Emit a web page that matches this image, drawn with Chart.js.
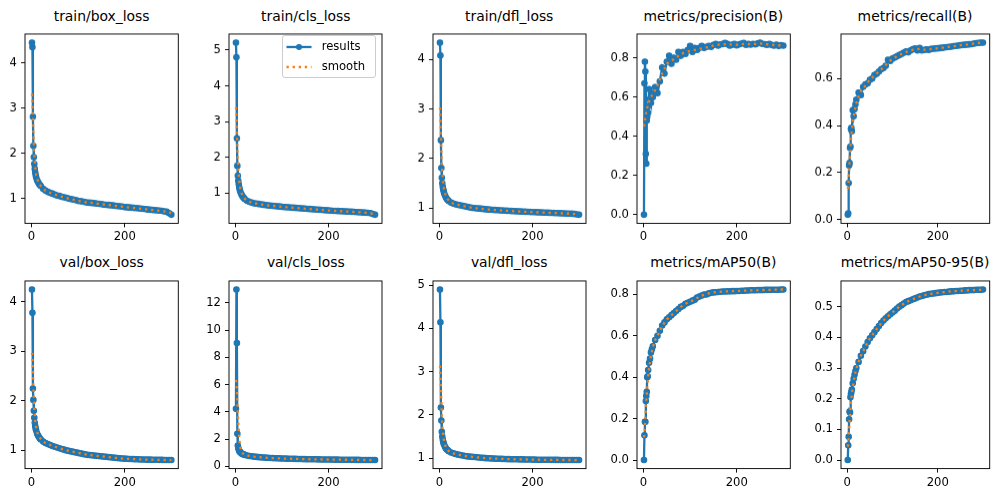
<!DOCTYPE html>
<html lang="en">
<head>
  <meta charset="UTF-8">
  <title>results</title>
  <script src="https://cdn.jsdelivr.net/npm/chart.js@4"></script>
  <style>
    html, body {
      margin: 0;
      padding: 0;
      background: #fff;
    }
    body {
      width: 999px;
      height: 495px;
      position: relative;
      overflow: hidden;
      font-family: 'DejaVu Sans', sans-serif;
    }
    .panel { position: absolute; }
    .title {
      position: absolute;
      text-align: center;
      font-size: 13.9px;
      line-height: 1;
      color: #000;
      white-space: nowrap;
    }
    .legend {
      position: absolute;
      box-sizing: border-box;
      border: 1.1px solid #cccccc;
      border-radius: 3px;
      background: rgba(255, 255, 255, 0.8);
    }
    .legend span {
      position: absolute;
      font-size: 11.6px;
      line-height: 1;
      color: #000;
      white-space: nowrap;
    }
  </style>
</head>
<body>
<script>
  // epochs sampled from the results curves
  const epochs = [1,2,3,4,5,6,7,8,9,10,12,14,16,18,20,25,30,35,40,45,50,55,60,65,70,75,80,85,90,95,100,
    105,110,115,120,125,130,135,140,145,150,155,160,165,170,175,180,185,190,195,200,
    205,210,215,220,225,230,235,240,245,250,255,260,265,270,275,280,285,290,295,300];
  const smoothEpochs = [1,2,3,4,5,6,8,10,13,16,20,25,30,40,50,60,70,80,90,100,110,120,130,140,150,
    160,170,180,190,200,210,220,230,240,250,260,270,280,290,295,300];

  const trainBox = [4.45,4.35,2.81,2.17,1.92,1.77,1.66,1.58,1.52,1.47,1.41,1.37,1.33,1.30,1.28,1.22,1.18,1.15,1.13,1.11,1.09,
    1.07,1.06,1.04,1.03,1.02,1.00,0.99,0.98,0.97,0.95,0.945,0.935,0.925,0.915,0.91,0.905,0.90,0.89,0.885,0.88,
    0.87,0.865,0.86,0.855,0.85,0.84,0.835,0.83,0.825,0.815,0.81,0.805,0.80,0.795,0.79,0.785,0.78,0.775,0.77,0.76,
    0.755,0.75,0.745,0.74,0.735,0.73,0.72,0.71,0.68,0.645];
  const trainBoxSmooth = [3.32,3.15,2.85,2.50,2.20,1.98,1.70,1.53,1.42,1.34,1.28,1.22,1.18,1.13,1.09,1.06,1.03,1.00,0.98,0.95,
    0.935,0.915,0.905,0.89,0.88,0.865,0.855,0.84,0.83,0.815,0.805,0.795,0.785,0.775,0.76,0.75,0.74,0.728,0.71,0.695,0.685];

  const trainCls = [5.21,4.80,2.53,1.76,1.48,1.34,1.24,1.16,1.10,1.05,0.98,0.93,0.89,0.86,0.83,0.78,0.75,0.73,0.71,0.70,0.69,
    0.68,0.67,0.66,0.65,0.645,0.64,0.63,0.625,0.62,0.61,0.605,0.60,0.595,0.59,0.585,0.58,0.575,0.57,0.565,0.56,
    0.555,0.55,0.545,0.54,0.535,0.53,0.525,0.52,0.515,0.51,0.505,0.50,0.497,0.494,0.49,0.487,0.484,0.48,0.476,0.472,
    0.468,0.464,0.46,0.456,0.452,0.447,0.442,0.435,0.41,0.39];
  const trainClsSmooth = [3.40,3.20,2.80,2.30,1.95,1.68,1.35,1.15,1.00,0.91,0.84,0.785,0.75,0.71,0.69,0.67,0.65,0.64,0.625,0.61,
    0.60,0.59,0.58,0.57,0.56,0.55,0.54,0.53,0.52,0.51,0.50,0.494,0.487,0.48,0.472,0.464,0.456,0.447,0.432,0.42,0.412];

  const trainDfl = [4.34,4.08,2.37,1.81,1.61,1.50,1.43,1.38,1.34,1.30,1.25,1.21,1.18,1.16,1.14,1.11,1.09,1.075,1.065,1.055,1.045,
    1.035,1.025,1.015,1.005,1.00,0.995,0.99,0.985,0.98,0.975,0.97,0.967,0.963,0.96,0.957,0.954,0.951,0.948,0.945,0.942,
    0.94,0.937,0.935,0.932,0.93,0.927,0.925,0.922,0.92,0.918,0.916,0.914,0.912,0.91,0.908,0.906,0.904,0.902,0.90,0.898,
    0.896,0.894,0.892,0.89,0.888,0.886,0.884,0.88,0.872,0.865];
  const trainDflSmooth = [3.03,2.85,2.55,2.20,1.92,1.72,1.50,1.36,1.27,1.20,1.15,1.11,1.09,1.065,1.045,1.025,1.005,0.995,0.985,0.975,
    0.967,0.96,0.954,0.948,0.942,0.937,0.932,0.927,0.922,0.918,0.914,0.91,0.906,0.902,0.898,0.894,0.89,0.886,0.879,0.874,0.871];

  const precision = [0.00,0.67,0.78,0.73,0.31,0.26,0.48,0.50,0.55,0.52,0.64,0.59,0.57,0.62,0.60,0.65,0.62,0.68,0.75,0.72,0.78,
    0.81,0.77,0.80,0.79,0.83,0.81,0.83,0.82,0.84,0.86,0.83,0.85,0.84,0.85,0.86,0.85,0.855,0.86,0.855,0.865,
    0.87,0.862,0.868,0.87,0.876,0.87,0.862,0.866,0.87,0.863,0.868,0.872,0.875,0.866,0.87,0.867,0.871,0.868,0.873,0.877,
    0.871,0.869,0.866,0.87,0.865,0.862,0.867,0.86,0.864,0.862];
  const precisionSmooth = [0.45,0.465,0.48,0.495,0.51,0.525,0.545,0.565,0.585,0.60,0.615,0.635,0.66,0.72,0.77,0.785,0.80,0.82,0.828,0.835,
    0.84,0.845,0.85,0.855,0.862,0.866,0.869,0.868,0.867,0.866,0.869,0.87,0.869,0.87,0.873,0.869,0.867,0.865,0.863,0.862,0.862];

  const recall = [0.02,0.025,0.155,0.23,0.24,0.305,0.31,0.385,0.39,0.375,0.465,0.44,0.47,0.49,0.51,0.54,0.53,0.565,0.575,0.58,0.595,
    0.60,0.615,0.62,0.63,0.64,0.645,0.655,0.68,0.675,0.685,0.69,0.695,0.70,0.705,0.71,0.715,0.712,0.72,0.725,0.728,
    0.72,0.73,0.72,0.722,0.724,0.722,0.726,0.727,0.728,0.729,0.73,0.731,0.733,0.734,0.735,0.736,0.738,0.739,0.74,0.742,
    0.743,0.744,0.745,0.746,0.747,0.749,0.751,0.752,0.753,0.753];
  const recallSmooth = [0.13,0.145,0.17,0.21,0.245,0.28,0.335,0.38,0.425,0.46,0.495,0.525,0.545,0.57,0.595,0.613,0.63,0.647,0.668,0.684,
    0.695,0.705,0.713,0.72,0.725,0.726,0.723,0.724,0.727,0.729,0.731,0.734,0.736,0.739,0.742,0.744,0.746,0.749,0.752,0.752,0.753];

  const valBox = [4.25,3.78,2.25,2.02,1.80,1.66,1.56,1.49,1.44,1.40,1.34,1.30,1.27,1.24,1.22,1.18,1.15,1.13,1.11,1.09,1.075,
    1.06,1.045,1.03,1.015,1.00,0.99,0.98,0.97,0.96,0.95,0.94,0.93,0.92,0.91,0.905,0.90,0.895,0.89,0.885,0.88,
    0.875,0.87,0.865,0.86,0.855,0.85,0.845,0.84,0.837,0.834,0.831,0.828,0.826,0.824,0.822,0.82,0.818,0.816,0.815,0.814,
    0.813,0.812,0.811,0.81,0.809,0.808,0.807,0.806,0.805,0.805];
  const valBoxSmooth = [2.97,2.85,2.60,2.30,2.05,1.85,1.60,1.46,1.35,1.28,1.23,1.18,1.15,1.11,1.075,1.045,1.015,0.99,0.97,0.95,
    0.93,0.91,0.90,0.89,0.88,0.87,0.86,0.85,0.84,0.834,0.828,0.824,0.82,0.816,0.814,0.812,0.81,0.808,0.806,0.805,0.805];

  const valCls = [4.23,12.99,9.06,2.40,1.53,1.36,1.25,1.16,1.10,1.05,0.98,0.93,0.90,0.87,0.85,0.80,0.77,0.745,0.72,0.70,0.685,
    0.67,0.655,0.645,0.635,0.625,0.615,0.607,0.60,0.593,0.587,0.58,0.575,0.57,0.565,0.56,0.555,0.55,0.546,0.542,0.538,
    0.534,0.53,0.527,0.524,0.521,0.518,0.515,0.512,0.51,0.507,0.505,0.503,0.501,0.499,0.497,0.495,0.493,0.491,0.489,0.487,
    0.485,0.483,0.481,0.479,0.477,0.475,0.473,0.471,0.47,0.469];
  const valClsSmooth = [6.35,6.10,5.55,4.80,4.00,3.25,2.10,1.45,1.10,0.95,0.86,0.80,0.77,0.72,0.685,0.655,0.635,0.615,0.60,0.587,
    0.575,0.565,0.555,0.546,0.538,0.53,0.524,0.518,0.512,0.507,0.503,0.499,0.495,0.491,0.487,0.483,0.479,0.475,0.471,0.47,0.469];

  const valDfl = [4.90,4.14,2.17,1.87,1.61,1.50,1.43,1.38,1.34,1.31,1.26,1.22,1.20,1.18,1.16,1.13,1.11,1.095,1.08,1.07,1.06,
    1.05,1.04,1.035,1.03,1.025,1.02,1.015,1.01,1.005,1.00,0.997,0.994,0.991,0.988,0.986,0.984,0.982,0.98,0.978,0.976,
    0.975,0.974,0.973,0.972,0.971,0.97,0.969,0.968,0.967,0.966,0.965,0.964,0.963,0.962,0.962,0.961,0.961,0.96,0.96,0.959,
    0.959,0.958,0.958,0.957,0.957,0.957,0.956,0.956,0.956,0.955];
  const valDflSmooth = [3.14,3.00,2.70,2.35,2.00,1.78,1.52,1.38,1.28,1.21,1.165,1.13,1.11,1.08,1.06,1.04,1.03,1.02,1.01,1.00,
    0.994,0.988,0.984,0.98,0.976,0.974,0.972,0.97,0.968,0.966,0.964,0.962,0.961,0.96,0.959,0.958,0.957,0.957,0.956,0.956,0.955];

  const map50 = [0.00,0.12,0.185,0.185,0.285,0.31,0.33,0.40,0.405,0.435,0.47,0.49,0.52,0.535,0.55,0.58,0.60,0.625,0.65,0.665,0.68,
    0.69,0.70,0.71,0.72,0.73,0.74,0.745,0.755,0.76,0.765,0.77,0.775,0.785,0.79,0.795,0.80,0.80,0.805,0.808,0.81,
    0.811,0.812,0.813,0.814,0.814,0.815,0.815,0.816,0.816,0.817,0.817,0.818,0.818,0.819,0.819,0.82,0.82,0.82,0.821,0.821,
    0.821,0.822,0.822,0.822,0.823,0.823,0.823,0.823,0.824,0.824];
  const map50Smooth = [0.11,0.13,0.165,0.205,0.245,0.285,0.35,0.405,0.46,0.505,0.545,0.58,0.60,0.648,0.68,0.70,0.72,0.74,0.755,0.765,
    0.776,0.79,0.799,0.805,0.81,0.812,0.814,0.815,0.816,0.817,0.818,0.819,0.82,0.82,0.821,0.822,0.822,0.823,0.823,0.824,0.824];

  const map5095 = [0.00,0.048,0.076,0.133,0.158,0.155,0.205,0.215,0.222,0.23,0.25,0.265,0.278,0.29,0.30,0.32,0.34,0.355,0.37,0.385,0.397,
    0.407,0.417,0.427,0.437,0.447,0.455,0.462,0.469,0.475,0.481,0.487,0.494,0.50,0.505,0.51,0.515,0.518,0.521,0.524,0.527,
    0.53,0.533,0.535,0.537,0.539,0.541,0.542,0.543,0.544,0.545,0.546,0.547,0.548,0.548,0.549,0.55,0.55,0.551,0.551,0.552,
    0.552,0.553,0.553,0.554,0.554,0.554,0.555,0.555,0.555,0.556];
  const map5095Smooth = [0.044,0.055,0.075,0.10,0.125,0.148,0.185,0.215,0.245,0.272,0.298,0.32,0.34,0.37,0.397,0.417,0.437,0.455,0.469,0.481,
    0.494,0.505,0.515,0.521,0.527,0.533,0.537,0.541,0.543,0.545,0.547,0.548,0.55,0.551,0.552,0.553,0.554,0.554,0.555,0.555,0.556];

  // tick labels
  const xTicks = ['0', '200'];
  const ticksBox = ['1', '2', '3', '4'];
  const ticksCls = ['1', '2', '3', '4', '5'];
  const ticksValCls = ['0', '2', '4', '6', '8', '10', '12'];
  const ticksValDfl = ['1', '2', '3', '4', '5'];
  const ticksP = ['0.0', '0.2', '0.4', '0.6', '0.8'];
  const ticksR = ['0.0', '0.2', '0.4', '0.6'];
  const ticks5095 = ['0.0', '0.1', '0.2', '0.3', '0.4', '0.5'];

  const panels = [
    ['train/box_loss', trainBox, trainBoxSmooth, ticksBox],
    ['train/cls_loss', trainCls, trainClsSmooth, ticksCls],
    ['train/dfl_loss', trainDfl, trainDflSmooth, ticksBox],
    ['metrics/precision(B)', precision, precisionSmooth, ticksP],
    ['metrics/recall(B)', recall, recallSmooth, ticksR],
    ['val/box_loss', valBox, valBoxSmooth, ticksBox],
    ['val/cls_loss', valCls, valClsSmooth, ticksValCls],
    ['val/dfl_loss', valDfl, valDflSmooth, ticksValDfl],
    ['metrics/mAP50(B)', map50, map50Smooth, ticksP],
    ['metrics/mAP50-95(B)', map5095, map5095Smooth, ticks5095]
  ];

  // axes boxes (px)
  const colL = [25, 229.3, 432.7, 636.7, 840.7];
  const colW = [153.3, 153, 153, 153.3, 148.7];
  const rowT = [29.3, 275.7];
  const rowH = [193.4, 192.6];

  const BLUE = '#1f77b4', ORANGE = '#ff7f0e';
  const FONT = { family: 'DejaVu Sans', size: 11.6 };
  const PADL = 40, PADT = 6, PADR = 6, PADB = 24;

  const boxPlugin = {
    id: 'frame',
    afterDraw(chart) {
      const a = chart.chartArea, c = chart.ctx;
      c.save();
      c.strokeStyle = '#000';
      c.lineWidth = 0.93;
      c.strokeRect(a.left, a.top, a.right - a.left, a.bottom - a.top);
      c.restore();
    }
  };

  panels.forEach(([title, vals, smooth, yTicks], i) => {
    const col = i % 5, row = Math.floor(i / 5);
    const L = colL[col], W = colW[col], T = rowT[row], H = rowH[row];

    const t = document.createElement('div');
    t.className = 'title';
    t.textContent = title;
    t.style.left = (L - 30) + 'px';
    t.style.width = (W + 60) + 'px';
    t.style.top = (T - 19.8) + 'px';
    document.body.appendChild(t);

    const box = document.createElement('div');
    box.className = 'panel';
    box.style.left = (L - PADL) + 'px';
    box.style.top = (T - PADT) + 'px';
    box.style.width = (W + PADL + PADR) + 'px';
    box.style.height = (H + PADT + PADB) + 'px';
    const cv = document.createElement('canvas');
    box.appendChild(cv);
    document.body.appendChild(box);

    const all = vals.concat(smooth);
    const lo = Math.min(...all), hi = Math.max(...all), m = (hi - lo) * 0.05;

    new Chart(cv, {
      type: 'line',
      data: {
        datasets: [
          {
            label: 'smooth',
            data: smoothEpochs.map((e, k) => ({ x: e, y: smooth[k] })),
            borderColor: ORANGE,
            borderWidth: 2.3,
            borderDash: [2.3, 3.8],
            pointRadius: 0,
            order: 0
          },
          {
            label: 'results',
            data: epochs.map((e, k) => ({ x: e, y: vals[k] })),
            borderColor: BLUE,
            backgroundColor: BLUE,
            borderWidth: 2.3,
            pointRadius: 2.7,
            pointBorderWidth: 1.2,
            pointBackgroundColor: BLUE,
            pointBorderColor: BLUE,
            order: 1
          }
        ]
      },
      options: {
        responsive: true,
        maintainAspectRatio: false,
        animation: false,
        events: [],
        layout: { padding: { left: 0, top: PADT, right: PADR, bottom: 0 } },
        plugins: { legend: { display: false }, tooltip: { enabled: false } },
        scales: {
          x: {
            type: 'linear',
            min: -13.95,
            max: 314.95,
            afterFit: s => { s.height = PADB; },
            afterBuildTicks: s => { s.ticks = xTicks.map(v => ({ value: Number(v) })); },
            ticks: { font: FONT, color: '#000', padding: 3, maxRotation: 0, autoSkip: false,
              callback: (v, k) => xTicks[k] },
            grid: { drawOnChartArea: false, drawTicks: true, tickLength: 4, tickColor: '#000', tickWidth: 0.93 },
            border: { display: false }
          },
          y: {
            type: 'linear',
            min: lo - m,
            max: hi + m,
            afterFit: s => { s.width = PADL; },
            afterBuildTicks: s => { s.ticks = yTicks.map(v => ({ value: Number(v) })); },
            ticks: { font: FONT, color: '#000', padding: 4, autoSkip: false,
              callback: (v, k) => yTicks[k] },
            grid: { drawOnChartArea: false, drawTicks: true, tickLength: 4, tickColor: '#000', tickWidth: 0.93 },
            border: { display: false }
          }
        }
      },
      plugins: [boxPlugin]
    });
  });

  // legend inside train/cls_loss
  const lg = document.createElement('div');
  lg.className = 'legend';
  lg.style.left = '281.7px';
  lg.style.top = '35px';
  lg.style.width = '94.5px';
  lg.style.height = '42.5px';
  lg.innerHTML =
    '<svg width="94" height="42" style="position:absolute;left:0;top:0">' +
    '<line x1="3.5" y1="11" x2="28.5" y2="11" stroke="' + BLUE + '" stroke-width="2.3"/>' +
    '<circle cx="16" cy="11" r="3" fill="' + BLUE + '"/>' +
    '<line x1="3.5" y1="31" x2="28.5" y2="31" stroke="' + ORANGE + '" stroke-width="2.3" stroke-dasharray="2.3 3.8"/>' +
    '</svg>' +
    '<span style="left:39px;top:4.5px">results</span>' +
    '<span style="left:39px;top:24.5px">smooth</span>';
  document.body.appendChild(lg);
</script>
</body>
</html>
